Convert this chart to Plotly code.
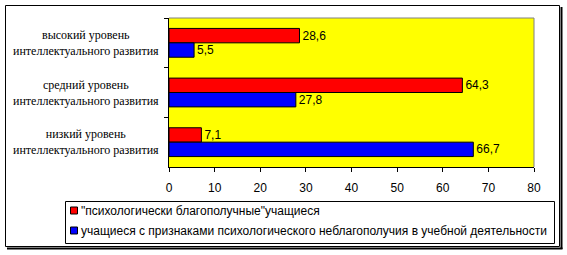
import plotly.graph_objects as go

categories = [
    "высокий уровень<br>интеллектуального развития",
    "средний уровень<br>интеллектуального развития",
    "низкий уровень<br>интеллектуального развития",
]
series_names = [
    "\"психологически благополучные\"учащиеся",
    "учащиеся с признаками психологического неблагополучия в учебной деятельности",
]
series_colors = ["#FF0000", "#0000FF"]
red_values = [28.6, 64.3, 7.1]
blue_values = [5.5, 27.8, 66.7]
x_ticks = [0, 10, 20, 30, 40, 50, 60, 70, 80]

W, H = 567, 255
L, R, T, B = 169, 534, 18, 167  # plot area pixel box

def fmt(v):
    return f"{v:.1f}".replace(".", ",")

def px(x):
    return (x - L) / (R - L)

def py(y):
    return (B - y) / (B - T)

fig = go.Figure()
for name, vals, col in [(series_names[0], red_values, series_colors[0]),
                        (series_names[1], blue_values, series_colors[1])]:
    fig.add_trace(go.Bar(
        y=categories, x=vals, name=name, orientation="h",
        marker=dict(color=col, line=dict(color="black", width=1)),
        text=[fmt(v) for v in vals], textposition="outside",
        textfont=dict(family="Liberation Sans", size=12, color="black"),
        cliponaxis=False, showlegend=False,
    ))

shapes = [
    # gray top/right plot border
    dict(type="line", xref="paper", yref="paper", x0=0, x1=1, y0=1, y1=1,
         line=dict(color="#808080", width=1)),
    dict(type="line", xref="paper", yref="paper", x0=1, x1=1, y0=0, y1=1,
         line=dict(color="#808080", width=1)),
    # outer frame
    dict(type="rect", xref="paper", yref="paper", x0=px(5.5), x1=px(559.5),
         y0=py(246.5), y1=py(5.5), line=dict(color="black", width=1)),
    # shadow
    dict(type="line", xref="paper", yref="paper", x0=px(561.5), x1=px(561.5),
         y0=py(249), y1=py(7), line=dict(color="black", width=2)),
    dict(type="line", xref="paper", yref="paper", x0=px(7), x1=px(562.5),
         y0=py(248.5), y1=py(248.5), line=dict(color="black", width=2)),
    # legend box
    dict(type="rect", xref="paper", yref="paper", x0=px(65.5), x1=px(554.5),
         y0=py(243.5), y1=py(201.5), line=dict(color="black", width=1),
         fillcolor="white"),
]

annotations = []
for c in categories:
    annotations.append(dict(
        xref="paper", yref="y", x=px(86), y=c, text=c, showarrow=False,
        xanchor="center", yanchor="middle", align="center",
        font=dict(family="Liberation Serif", size=12, color="black"),
    ))

# manual legend entries
legend_rows = [210.5, 230.5]
for name, col, yc in zip(series_names, series_colors, legend_rows):
    shapes.append(dict(type="rect", xref="paper", yref="paper",
                       x0=px(70.5), x1=px(77.5), y0=py(yc + 3.5), y1=py(yc - 3.5),
                       line=dict(color="black", width=1), fillcolor=col))
    annotations.append(dict(
        xref="paper", yref="paper", x=px(79), y=py(yc), text=name,
        showarrow=False, xanchor="left", yanchor="middle",
        font=dict(family="Liberation Sans", size=12, color="black"),
    ))

fig.update_layout(
    width=W, height=H,
    margin=dict(l=L, r=W - R, t=T, b=H - B, pad=0),
    paper_bgcolor="white", plot_bgcolor="#FFFF00",
    barmode="group", bargap=0.42, bargroupgap=0,
    showlegend=False,
    xaxis=dict(
        range=[0, 80], tickvals=x_ticks, ticktext=[str(t) for t in x_ticks],
        showgrid=False, zeroline=False, showline=True, linecolor="black",
        linewidth=1, ticks="outside", ticklen=4, tickcolor="black",
        ticklabelstandoff=6,
        tickfont=dict(family="Liberation Sans", size=12, color="black"),
    ),
    yaxis=dict(
        type="category", autorange="reversed", showticklabels=False,
        showgrid=False, zeroline=False, showline=True, linecolor="black",
        linewidth=1, ticks="outside", ticklen=4, tickcolor="black",
        tickson="boundaries",
    ),
    shapes=shapes, annotations=annotations,
    font=dict(family="Liberation Sans", size=12, color="black"),
)

fig.write_html("out.html")
